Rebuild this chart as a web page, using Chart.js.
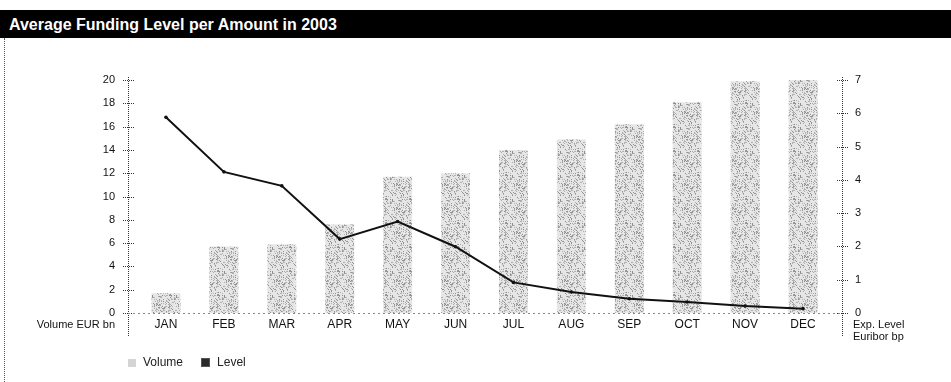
<!DOCTYPE html>
<html>
<head>
<meta charset="utf-8">
<script src="https://cdn.jsdelivr.net/npm/chart.js@4.4.0/dist/chart.umd.min.js"></script>
<style>
  html, body { margin: 0; padding: 0; background: #fff; }
  body { width: 951px; height: 382px; position: relative; overflow: hidden; font-family: 'Liberation Sans', Arial, sans-serif; }
  #titleBar { position: absolute; left: 0; top: 10px; width: 951px; height: 28px; background: #000; color: #fff;
    font-weight: bold; font-size: 16px; line-height: 29px; padding-left: 9px; box-sizing: border-box; }
  #leftRule { position: absolute; left: 4px; top: 38px; bottom: 0; border-left: 1px dotted #555; }
  #chartBox { position: absolute; left: 0; top: 0; width: 951px; height: 382px; }
  #legend { position: absolute; left: 128px; top: 355px; font-size: 12px; color: #222; }
  #legend span.item { display: inline-block; margin-right: 18px; }
  #legend i { display: inline-block; width: 8px; height: 8px; margin-right: 7px; vertical-align: -1px; }
  #legend i.vol { background: #d4d4d4; }
  #legend i.lev { background: #2a2a2a; border: 1px solid #555; width: 7px; height: 7px; }
</style>
</head>
<body>
<div id="titleBar">Average Funding Level per Amount in 2003</div>
<div id="leftRule"></div>
<div id="chartBox"><canvas id="fundingChart" width="951" height="382"></canvas></div>
<div id="legend"><span class="item"><i class="vol"></i>Volume</span><span class="item"><i class="lev"></i>Level</span></div>

<script>
// data
const months = ['JAN', 'FEB', 'MAR', 'APR', 'MAY', 'JUN', 'JUL', 'AUG', 'SEP', 'OCT', 'NOV', 'DEC'];
const volume = [1.7, 5.7, 5.9, 7.6, 11.7, 12.0, 14.0, 14.9, 16.2, 18.1, 19.9, 20.0];   // EUR bn
const level = [5.88, 4.24, 3.82, 2.22, 2.75, 1.99, 0.92, 0.63, 0.43, 0.33, 0.21, 0.13]; // Euribor bp
const volumeTicks = [0, 2, 4, 6, 8, 10, 12, 14, 16, 18, 20];
const levelTicks = [0, 1, 2, 3, 4, 5, 6, 7];

// stippled grey fill, like the printed bars (texture only, hashed so it is the same every run)
function stipple() {
  const n = 24;
  const c = document.createElement('canvas');
  c.width = n; c.height = n;
  const g = c.getContext('2d');
  g.fillStyle = '#e6e6e6';
  g.fillRect(0, 0, n, n);
  for (let y = 0; y < n; y++) {
    for (let x = 0; x < n; x++) {
      const h = ((x * 73856093) ^ (y * 19349663) ^ 0x5bd1e995) >>> 0;
      const k = (h % 97);
      if (k < 24) {
        g.fillStyle = k < 9 ? '#909090' : '#b0b0b0';
        g.fillRect(x, y, 1, 1);
      }
    }
  }
  return document.getElementById('fundingChart').getContext('2d').createPattern(c, 'repeat');
}

// dotted axis lines with cross ticks plus the axis captions
const axisDecor = {
  id: 'axisDecor',
  afterDraw(chart) {
    const ctx = chart.ctx;
    const area = chart.chartArea;
    const yL = chart.scales.y, yR = chart.scales.y1;
    const lx = area.left - 9, rx = area.right + 10;
    ctx.save();
    ctx.strokeStyle = '#333';
    ctx.lineWidth = 1;
    ctx.setLineDash([1, 1]);
    [lx, rx].forEach(x => {
      ctx.beginPath();
      ctx.moveTo(x + 0.5, area.top - 3);
      ctx.lineTo(x + 0.5, area.bottom + 23);
      ctx.stroke();
    });
    volumeTicks.forEach(v => {
      const y = Math.round(yL.getPixelForValue(v)) + 0.5;
      ctx.beginPath(); ctx.moveTo(lx - 5, y); ctx.lineTo(lx + 6, y); ctx.stroke();
    });
    levelTicks.forEach(v => {
      const y = Math.round(yR.getPixelForValue(v)) + 0.5;
      ctx.beginPath(); ctx.moveTo(rx - 5, y); ctx.lineTo(rx + 6, y); ctx.stroke();
    });
    // baseline
    ctx.strokeStyle = '#888';
    ctx.setLineDash([2, 3]);
    const by = Math.round(yL.getPixelForValue(0)) + 0.5;
    ctx.beginPath(); ctx.moveTo(lx, by); ctx.lineTo(rx, by); ctx.stroke();
    // captions
    ctx.setLineDash([]);
    ctx.fillStyle = '#111';
    ctx.font = '11px "Liberation Sans", Arial, sans-serif';
    ctx.textBaseline = 'middle';
    ctx.textAlign = 'right';
    ctx.fillText('Volume EUR bn', area.left - 22, by + 11);
    ctx.textAlign = 'left';
    ctx.fillText('Exp. Level', area.right + 21, by + 11);
    ctx.fillText('Euribor bp', area.right + 21, by + 23);
    ctx.restore();
  }
};

const tickFont = { size: 11, family: '"Liberation Sans", Arial, sans-serif' };

const chart = new Chart(document.getElementById('fundingChart'), {
  data: {
    labels: months,
    datasets: [
      {
        type: 'line', label: 'Level', data: level, yAxisID: 'y1', order: 0,
        borderColor: '#111', borderWidth: 2, tension: 0,
        pointRadius: 1.8, pointBackgroundColor: '#111', pointBorderWidth: 0
      },
      {
        type: 'bar', label: 'Volume', data: volume, yAxisID: 'y', order: 1,
        backgroundColor: stipple(), borderWidth: 0,
        categoryPercentage: 1, barPercentage: 0.5
      }
    ]
  },
  options: {
    responsive: false,
    animation: false,
    events: [],
    layout: { padding: { top: 80, left: 0, right: 0, bottom: 0 } },
    plugins: { legend: { display: false }, tooltip: { enabled: false } },
    scales: {
      x: {
        offset: true,
        grid: { display: false, drawTicks: false },
        border: { display: false },
        ticks: { color: '#111', font: { size: 12, family: '"Liberation Sans", Arial, sans-serif' }, padding: 4, maxRotation: 0 },
        afterFit(s) { s.height = 69; }
      },
      y: {
        position: 'left', min: 0, max: 20,
        grid: { display: false, drawTicks: false }, border: { display: false },
        afterBuildTicks(s) { s.ticks = volumeTicks.map(v => ({ value: v })); },
        ticks: { color: '#111', font: tickFont, padding: 22 },
        afterFit(s) { s.width = 137; }
      },
      y1: {
        position: 'right', min: 0, max: 7,
        grid: { display: false, drawTicks: false }, border: { display: false },
        afterBuildTicks(s) { s.ticks = levelTicks.map(v => ({ value: v })); },
        ticks: { color: '#111', font: tickFont, padding: 23 },
        afterFit(s) { s.width = 119; }
      }
    }
  },
  plugins: [axisDecor]
});
</script>
</body>
</html>
